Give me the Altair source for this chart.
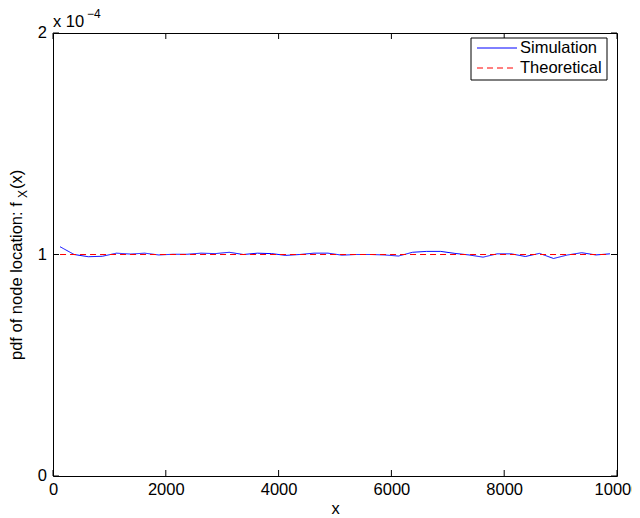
import altair as alt
import pandas as pd

# ---- data (y values in units of 1e-4) ----
sim_x = [125, 375, 625, 875, 1125, 1375, 1625, 1875, 2125, 2375,
         2625, 2875, 3125, 3375, 3625, 3875, 4125, 4375, 4625, 4875,
         5125, 5375, 5625, 5875, 6125, 6375, 6625, 6875, 7125, 7375,
         7625, 7875, 8125, 8375, 8625, 8875, 9125, 9375, 9625, 9875]
sim_y = [1.035, 1.000, 0.990, 0.992, 1.006, 1.002, 1.006, 0.998, 1.001, 1.001,
         1.006, 1.004, 1.010, 1.000, 1.006, 1.004, 0.996, 1.000, 1.006, 1.006,
         0.997, 1.000, 1.000, 0.998, 0.993, 1.010, 1.014, 1.014, 1.005, 0.998,
         0.988, 1.003, 1.003, 0.991, 1.005, 0.982, 0.998, 1.008, 0.998, 1.003]
theo_x = [125, 9875]
theo_y = [1.0, 1.0]
series = ["Simulation", "Theoretical"]
colors = ["#0000ff", "#ff0000"]
dashes = [[1, 0], [6, 4]]
x_ticks = [0, 2000, 4000, 6000, 8000, 10000]
y_ticks = [0, 1, 2]
y_tick_labels = ["0", "1", "2"]

W, H = 564, 443
FONT = "Liberation Sans"
FS = 16.5

df = pd.DataFrame({
    "x": sim_x + theo_x,
    "y": sim_y + theo_y,
    "series": [series[0]] * len(sim_x) + [series[1]] * len(theo_x),
})

xs = alt.Scale(domain=[0, 10000], nice=False, zero=False)
ys = alt.Scale(domain=[0, 2], nice=False, zero=False)

xaxis = alt.Axis(values=x_ticks, format="d", ticks=False, domain=False, grid=False,
                 labelFlush=False, labelOverlap=False,
                 labelFont=FONT, labelFontSize=FS, labelColor="black", labelPadding=5,
                 title="x", titleFont=FONT, titleFontSize=FS, titleFontWeight="normal",
                 titleColor="black", titlePadding=3)
yaxis = alt.Axis(values=y_ticks, labels=False, ticks=False, domain=False, grid=False,
                 title=None)

lines = alt.Chart(df).mark_line(strokeWidth=1).encode(
    x=alt.X("x:Q", scale=xs, axis=xaxis),
    y=alt.Y("y:Q", scale=ys, axis=yaxis),
    color=alt.Color("series:N", scale=alt.Scale(domain=series, range=colors), legend=None),
    strokeDash=alt.StrokeDash("series:N", scale=alt.Scale(domain=series, range=dashes), legend=None),
)

xt = pd.DataFrame({"x": x_ticks})
yt = pd.DataFrame({"y": y_ticks, "lab": y_tick_labels})
TL = 6
tick_style = dict(color="black", strokeWidth=1)
xb = alt.Chart(xt).mark_rule(**tick_style).encode(x=alt.X("x:Q", scale=xs, axis=xaxis), y=alt.value(H), y2=alt.value(H - TL))
xtop = alt.Chart(xt).mark_rule(**tick_style).encode(x=alt.X("x:Q", scale=xs, axis=xaxis), y=alt.value(0), y2=alt.value(TL))
yl = alt.Chart(yt).mark_rule(**tick_style).encode(y=alt.Y("y:Q", scale=ys, axis=yaxis), x=alt.value(0), x2=alt.value(TL))
yr = alt.Chart(yt).mark_rule(**tick_style).encode(y=alt.Y("y:Q", scale=ys, axis=yaxis), x=alt.value(W), x2=alt.value(W - TL))
ylabels = alt.Chart(yt).mark_text(font=FONT, fontSize=FS, align="right", baseline="middle", color="black").encode(
    y=alt.Y("y:Q", scale=ys, axis=yaxis), x=alt.value(-6), text="lab:N")


def one():
    return alt.Data(values=[{}])


def txt(s, x, y, size, angle=0, baseline="alphabetic"):
    return alt.Chart(one()).mark_text(
        text=s, font=FONT, fontSize=size, angle=angle, align="left",
        baseline=baseline, color="black",
    ).encode(x=alt.value(x), y=alt.value(y))


# manual legend (box, line samples, labels)
LX0, LX1, LY0, LY1 = 418, 554, 5, 47
row_y = [15, 35]
legend_box = alt.Chart(one()).mark_rect(fill="white", stroke="black", strokeWidth=1).encode(
    x=alt.value(LX0), x2=alt.value(LX1), y=alt.value(LY0), y2=alt.value(LY1))
legend_parts = [legend_box]
for i, name in enumerate(series):
    legend_parts.append(
        alt.Chart(one()).mark_rule(color=colors[i], strokeWidth=1, strokeDash=dashes[i]).encode(
            x=alt.value(LX0 + 6), x2=alt.value(LX0 + 46), y=alt.value(row_y[i])))
    legend_parts.append(txt(name, LX0 + 49, row_y[i], FS, baseline="middle"))

# y-axis title: "pdf of node location: f_X(x)"
TF = 16.5
main_w = 9.762 * TF
sub_w = 0.667 * 12
y0 = 327
ytitle = [
    txt("pdf of node location: f", -31, y0, TF, 270),
    txt("X", -26, y0 - main_w - 1, 12, 270),
    txt("(x)", -31, y0 - main_w - sub_w - 2, TF, 270),
]
# exponent annotation
expo = [
    txt("x 10", 0, -6, FS),
    txt("\u22124", 34, -15, 12),
]

chart = alt.layer(lines, xb, xtop, yl, yr, ylabels, *legend_parts, *ytitle, *expo).properties(
    width=W, height=H,
    autosize=alt.AutoSizeParams(type="none"),
    padding={"left": 45, "top": 25, "right": 15, "bottom": 42},
).configure_view(stroke="black", strokeWidth=1)

chart.save("out.html", embed_options={"renderer": "svg", "actions": False})
